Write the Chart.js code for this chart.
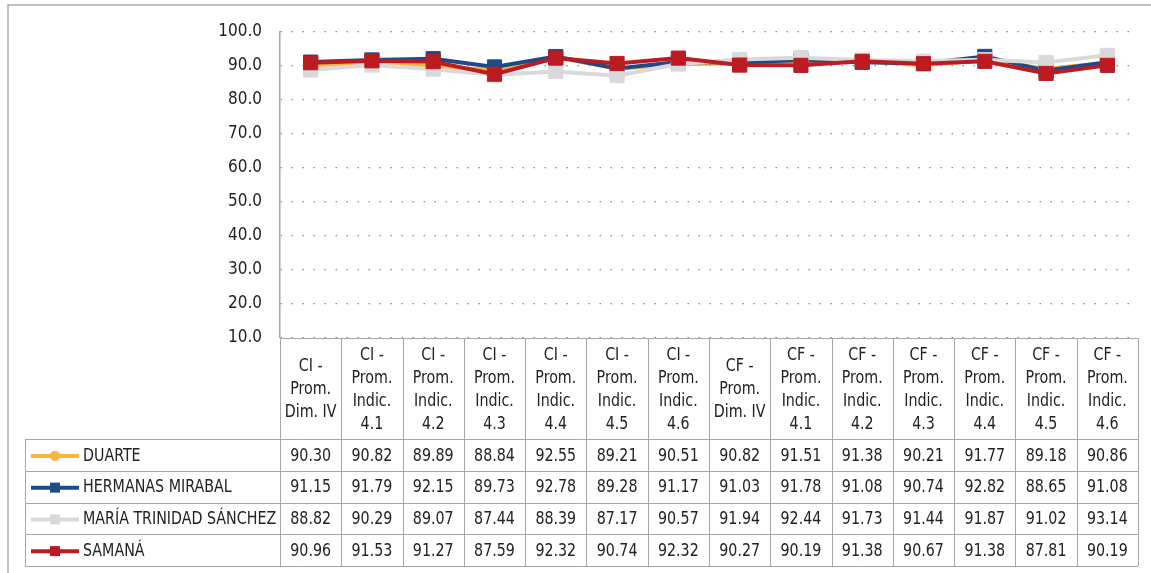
<!DOCTYPE html>
<html>
<head>
<meta charset="utf-8">
<script src="https://cdn.jsdelivr.net/npm/chart.js@4/dist/chart.umd.min.js"></script>
<style>
  html, body { margin: 0; padding: 0; background: #fff; }
  canvas { display: block; }
</style>
</head>
<body>
<canvas id="chart" width="1151" height="573"></canvas>
<script>
const FONT = "'DejaVu Sans Condensed', 'Liberation Sans Narrow', 'Roboto', sans-serif";

const categories = [
  ['CI -', 'Prom.', 'Dim. IV'],
  ['CI -', 'Prom.', 'Indic.', '4.1'],
  ['CI -', 'Prom.', 'Indic.', '4.2'],
  ['CI -', 'Prom.', 'Indic.', '4.3'],
  ['CI -', 'Prom.', 'Indic.', '4.4'],
  ['CI -', 'Prom.', 'Indic.', '4.5'],
  ['CI -', 'Prom.', 'Indic.', '4.6'],
  ['CF -', 'Prom.', 'Dim. IV'],
  ['CF -', 'Prom.', 'Indic.', '4.1'],
  ['CF -', 'Prom.', 'Indic.', '4.2'],
  ['CF -', 'Prom.', 'Indic.', '4.3'],
  ['CF -', 'Prom.', 'Indic.', '4.4'],
  ['CF -', 'Prom.', 'Indic.', '4.5'],
  ['CF -', 'Prom.', 'Indic.', '4.6'],
];

const duarte = [90.30, 90.82, 89.89, 88.84, 92.55, 89.21, 90.51, 90.82, 91.51, 91.38, 90.21, 91.77, 89.18, 90.86];
const hermanasMirabal = [91.15, 91.79, 92.15, 89.73, 92.78, 89.28, 91.17, 91.03, 91.78, 91.08, 90.74, 92.82, 88.65, 91.08];
const mariaTrinidad = [88.82, 90.29, 89.07, 87.44, 88.39, 87.17, 90.57, 91.94, 92.44, 91.73, 91.44, 91.87, 91.02, 93.14];
const samana = [90.96, 91.53, 91.27, 87.59, 92.32, 90.74, 92.32, 90.27, 90.19, 91.38, 90.67, 91.38, 87.81, 90.19];

const yTicks = [10, 20, 30, 40, 50, 60, 70, 80, 90, 100];

const series = [
  { label: 'DUARTE', data: duarte, color: '#F9B43F', style: 'circle', radius: 5, order: 4 },
  { label: 'HERMANAS MIRABAL', data: hermanasMirabal, color: '#1E4A8A', style: 'rect', radius: 10, order: 3 },
  { label: 'MARÍA TRINIDAD SÁNCHEZ', data: mariaTrinidad, color: '#D9D9DB', style: 'rect', radius: 10, order: 2 },
  { label: 'SAMANÁ', data: samana, color: '#BB1B21', style: 'rect', radius: 10, order: 1 },
];

const TABLE_TOP = 338;
const HEADER_H = 101;
const ROW_H = 31.75;
const LEGEND_LEFT = 25;
const GRID_COLOR = '#A6A6A6';

// narrow text: slightly taller glyphs squeezed horizontally
function narrowText(ctx, text, x, y, align) {
  ctx.save();
  ctx.translate(x, y);
  ctx.scale(0.88, 1);
  ctx.textAlign = align;
  ctx.fillText(text, 0, 0);
  ctx.restore();
}

const frame = {
  id: 'frame',
  beforeDraw(chart) {
    const { ctx } = chart;
    ctx.save();
    ctx.fillStyle = '#fff';
    ctx.fillRect(0, 0, chart.width, chart.height);
    ctx.strokeStyle = '#ABABAB';
    ctx.lineWidth = 1.5;
    ctx.strokeRect(8, 5, chart.width + 10, chart.height + 10);
    ctx.restore();
  },
};

const dataTable = {
  id: 'dataTable',
  afterDraw(chart) {
    const { ctx, chartArea: { left, right } } = chart;
    const n = categories.length;
    const w = (right - left) / n;
    const headerBottom = TABLE_TOP + HEADER_H;
    const bottom = headerBottom + ROW_H * series.length;

    ctx.save();
    ctx.strokeStyle = GRID_COLOR;
    ctx.lineWidth = 1;
    ctx.beginPath();
    ctx.moveTo(left, TABLE_TOP + 0.5);
    ctx.lineTo(right, TABLE_TOP + 0.5);
    for (let r = 0; r <= series.length; r++) {
      const y = Math.round(headerBottom + r * ROW_H) + 0.5;
      ctx.moveTo(LEGEND_LEFT, y);
      ctx.lineTo(right, y);
    }
    for (let i = 0; i <= n; i++) {
      const x = Math.round(left + i * w) + 0.5;
      ctx.moveTo(x, TABLE_TOP);
      ctx.lineTo(x, bottom);
    }
    ctx.moveTo(LEGEND_LEFT + 0.5, headerBottom);
    ctx.lineTo(LEGEND_LEFT + 0.5, bottom);
    ctx.stroke();

    ctx.fillStyle = '#222';
    ctx.font = '18px ' + FONT;
    ctx.textBaseline = 'middle';
    const lh = 23;
    categories.forEach((lines, i) => {
      const cx = left + (i + 0.5) * w;
      const y0 = TABLE_TOP + HEADER_H / 2 - (lines.length - 1) * lh / 2 + 1;
      lines.forEach((t, k) => narrowText(ctx, t, cx, y0 + k * lh, 'center'));
    });

    series.forEach((s, r) => {
      const cy = headerBottom + (r + 0.5) * ROW_H + 1;
      ctx.fillStyle = '#222';
      s.data.forEach((v, i) => {
        narrowText(ctx, v.toFixed(2), left + (i + 0.5) * w, cy, 'center');
      });
      // legend key
      ctx.strokeStyle = s.color;
      ctx.lineWidth = 4;
      ctx.beginPath();
      ctx.moveTo(31, cy);
      ctx.lineTo(79, cy);
      ctx.stroke();
      ctx.fillStyle = s.color;
      if (s.style === 'circle') {
        ctx.beginPath();
        ctx.arc(55, cy, 5, 0, Math.PI * 2);
        ctx.fill();
      } else {
        ctx.fillRect(50, cy - 5, 10, 10);
      }
      ctx.fillStyle = '#222';
      narrowText(ctx, s.label, 83, cy, 'left');
    });
    ctx.restore();
  },
};

new Chart(document.getElementById('chart'), {
  type: 'line',
  data: {
    labels: categories,
    datasets: series.map((s) => ({
      label: s.label,
      data: s.data,
      borderColor: s.color,
      backgroundColor: s.color,
      borderWidth: 4,
      pointStyle: s.style,
      pointRadius: s.radius,
      pointBorderWidth: 1,
      pointBorderColor: s.color,
      pointBackgroundColor: s.color,
      tension: 0,
      fill: false,
      order: s.order,
    })),
  },
  options: {
    responsive: false,
    animation: false,
    devicePixelRatio: 1,
    layout: { padding: { left: 0, right: 13, top: 32, bottom: 573 - TABLE_TOP } },
    plugins: {
      legend: { display: false },
      tooltip: { enabled: false },
    },
    scales: {
      x: {
        type: 'category',
        display: false,
        offset: true,
      },
      y: {
        min: 10,
        max: 100,
        afterFit(scale) {
          scale.width = 280;
        },
        afterBuildTicks(scale) {
          scale.ticks = yTicks.map((v) => ({ value: v }));
        },
        ticks: {
          padding: 18,
          color: '#222',
          font: { family: FONT, size: 17 },
          callback: (v) => Number(v).toFixed(1),
        },
        grid: {
          color: '#8C8C8C',
          lineWidth: 1.2,
          drawTicks: false,
        },
        border: {
          display: true,
          color: GRID_COLOR,
          width: 1.5,
          dash: [1.5, 9.5],
        },
      },
    },
  },
  plugins: [frame, dataTable],
});
</script>
</body>
</html>
